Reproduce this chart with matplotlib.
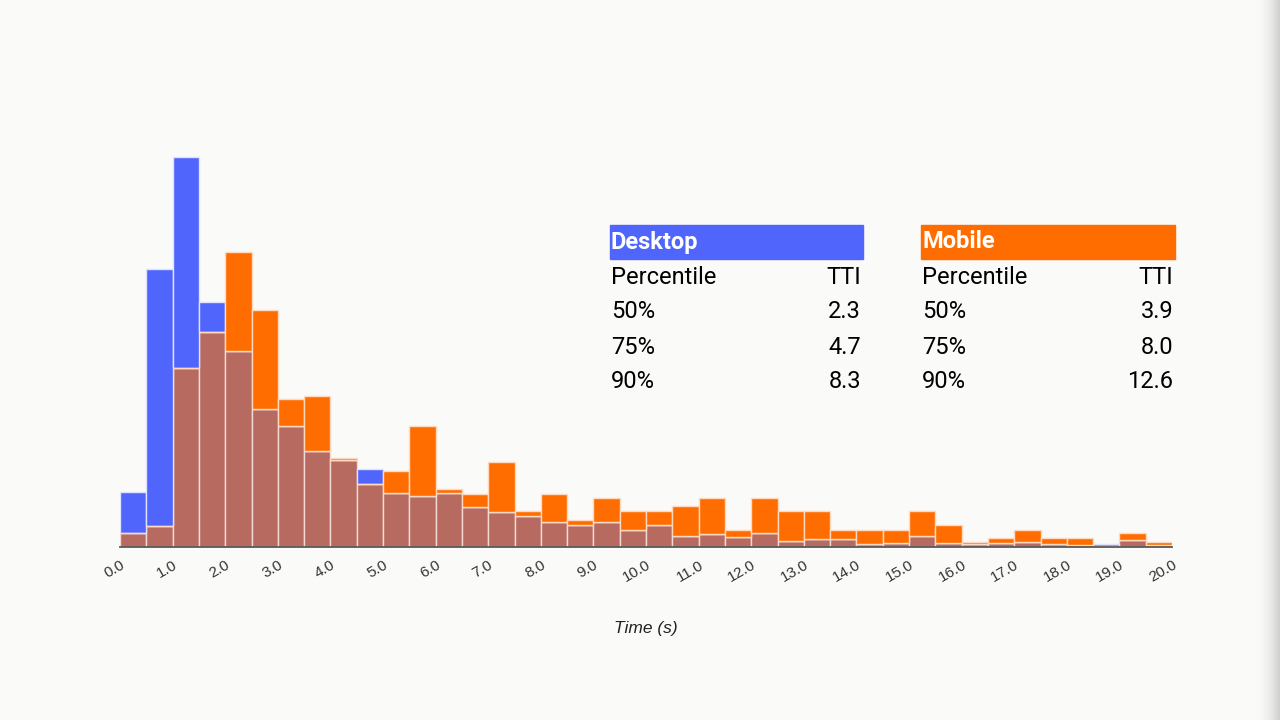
import numpy as np
import matplotlib
matplotlib.use("Agg")
import matplotlib.pyplot as plt
from matplotlib.colors import LinearSegmentedColormap

# ---- data (relative frequency, arbitrary units) ----
bin_edges = [i * 0.5 for i in range(41)]
desktop = [55, 278, 390, 245, 196, 138, 121, 96, 87, 78,
           54, 51, 54, 40, 35, 31, 25, 22, 25, 17,
           22, 11, 13, 10, 14, 6, 8, 8, 3, 4,
           11, 4, 3, 4, 5, 3, 2.5, 3.5, 6.6, 2.5]
mobile = [14, 21, 179, 215, 295, 237, 148, 151, 89, 63,
          76, 121, 58, 53, 85, 36, 53, 27, 49, 36,
          36, 41, 49, 17, 49, 36, 36, 17, 17, 17,
          36, 22, 5, 8.6, 17, 8.6, 8.6, 1, 13.6, 5]
tick_values = list(range(0, 21))
tick_labels = [f"{v:.1f}" for v in tick_values]
xlabel = "Time (s)"

desktop_pct = ["50%", "75%", "90%"]
desktop_tti = ["2.3", "4.7", "8.3"]
mobile_pct = ["50%", "75%", "90%"]
mobile_tti = ["3.9", "8.0", "12.6"]

# ---- styles ----
BG = "#fafaf9"
BLUE = "#5065fb"
ORANGE = "#ff6d00"
BROWN = "#b76a5f"

plt.rcParams['font.family'] = ['Roboto', 'DejaVu Sans']

fig = plt.figure(figsize=(12.8, 7.2), dpi=100, facecolor=BG)
W, H = 1280, 720

# main axes: x 120..1172 px, baseline y=547, 1 unit = 1 px
ax = fig.add_axes([120 / W, (H - 547) / H, (1172 - 120) / W, 420 / H])
ax.set_facecolor(BG)
ax.patch.set_alpha(0)
ax.set_xlim(0, 20)
ax.set_ylim(0, 420)

d = np.array(desktop, dtype=float)
m = np.array(mobile, dtype=float)
left = np.array(bin_edges[:-1])
width = 0.5
low = np.minimum(d, m)
d_excess = np.clip(d - m, 0, None)
m_excess = np.clip(m - d, 0, None)

ax.bar(left, low, width=width, align='edge', color=BROWN,
       edgecolor="#f4d9d4", linewidth=1.0, zorder=2)
ax.bar(left, d_excess, bottom=low, width=width, align='edge', color=BLUE,
       edgecolor="#dfe3ff", linewidth=1.0, zorder=2)
ax.bar(left, m_excess, bottom=low, width=width, align='edge', color=ORANGE,
       edgecolor="#ffd9bf", linewidth=1.0, zorder=2)

for s in ['top', 'right', 'left']:
    ax.spines[s].set_visible(False)
ax.spines['bottom'].set_color('#5a5a5a')
ax.spines['bottom'].set_linewidth(1.3)
ax.spines['bottom'].set_zorder(3)
ax.set_yticks([])
ax.set_xticks(tick_values)
ax.set_xticklabels(tick_labels, rotation=30, ha='right', rotation_mode='anchor',
                   fontsize=11, color='#333333', family=['Liberation Sans', 'DejaVu Sans'])
ax.tick_params(axis='x', length=0, pad=8)
ax.set_xlabel(xlabel, fontsize=12.5, style='italic', color='#222222',
              family=['Liberation Sans', 'DejaVu Sans'])
ax.xaxis.set_label_coords((646 - 120) / (1172 - 120), -0.175)

# ---- tables ----
def fx(px):
    return px / W

def fy(py):
    return 1 - py / H

FS = 17

def draw_table(x0, x1, title, color, pcts, ttis):
    fig.patches.append(plt.Rectangle((fx(x0), fy(259)), fx(x1) - fx(x0), fy(225) - fy(259),
                                     transform=fig.transFigure, color=color, zorder=1))
    fig.text(fx(x0 + 1), fy(242), title, color='white', fontsize=FS, fontweight='bold',
             va='center', ha='left')
    fig.text(fx(x0 + 1), fy(277), "Percentile", color='black', fontsize=FS,
             va='center', ha='left')
    fig.text(fx(x1 - 2), fy(277), "TTI", color='black', fontsize=FS,
             va='center', ha='right')
    for i, (p, t) in enumerate(zip(pcts, ttis)):
        y = 312 + 35 * i
        fig.text(fx(x0 + 1), fy(y), p, color='black', fontsize=FS, va='center', ha='left')
        fig.text(fx(x1 - 2), fy(y), t, color='black', fontsize=FS, va='center', ha='right')

draw_table(610, 863, "Desktop", BLUE, desktop_pct, desktop_tti)
draw_table(921, 1175, "Mobile", ORANGE, mobile_pct, mobile_tti)

# ---- right-edge shadow ----
sax = fig.add_axes([1255 / W, 0, 25 / W, 1])
sax.axis('off')
grad = np.linspace(0, 1, 100) ** 2
cmap = LinearSegmentedColormap.from_list('sh', [BG, '#cfcfcd'])
sax.imshow(grad[np.newaxis, :], aspect='auto', cmap=cmap, extent=[0, 1, 0, 1])

fig.savefig("out.png", dpi=100, facecolor=BG)
